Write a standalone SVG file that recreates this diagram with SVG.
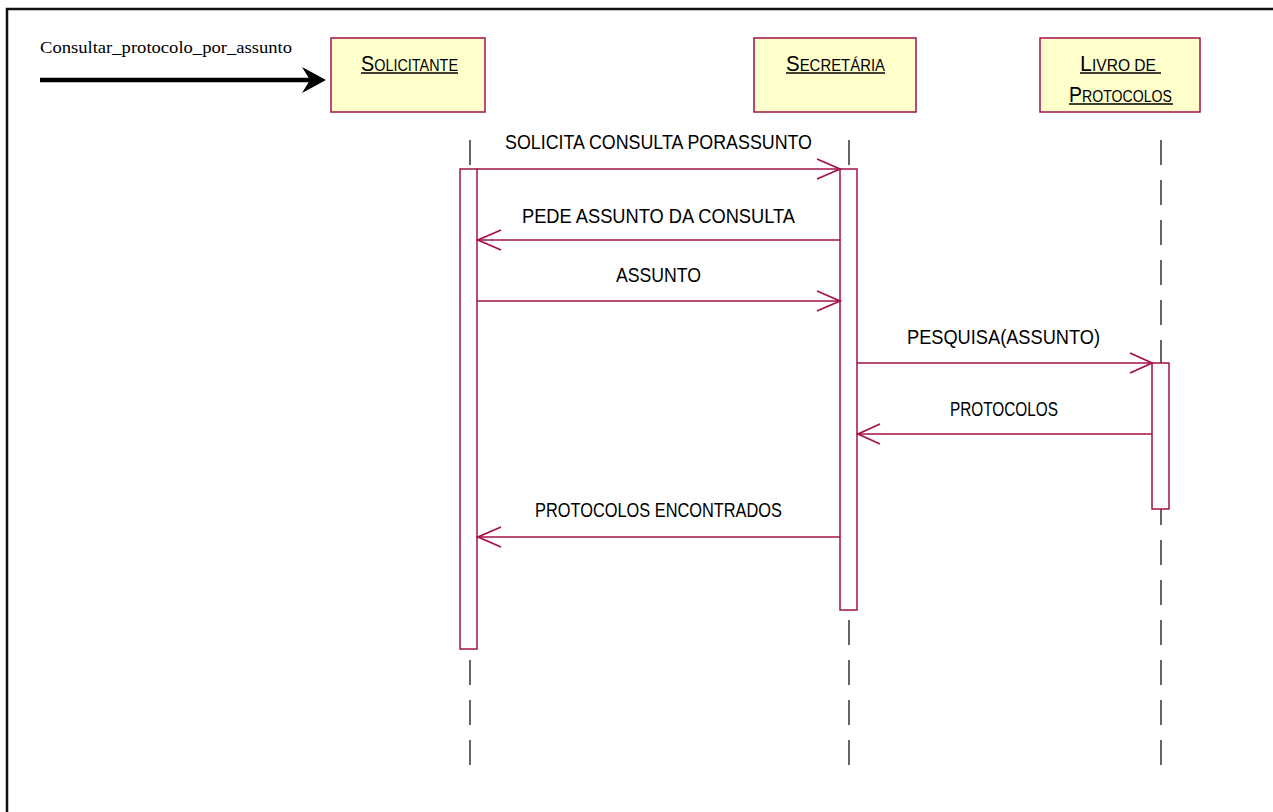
<svg xmlns="http://www.w3.org/2000/svg" width="1273" height="812" viewBox="0 0 1273 812">
<defs>
<style>
.frame{fill:none;stroke:#111;stroke-width:2.5}
.actor{fill:#ffffcc;stroke:#a3124a;stroke-width:1.5}
.act{fill:#fff;stroke:#a3124a;stroke-width:1.5}
.life{stroke:#333;stroke-width:1.5;stroke-dasharray:25 15;fill:none}
.msg{stroke:#a3124a;stroke-width:1.5;fill:none}
.head{stroke:#a3124a;stroke-width:1.8;fill:none}
.lbl{font-family:"Liberation Sans",Arial,sans-serif;font-size:21px;fill:#000}
.ttl{font-family:"Liberation Sans",Arial,sans-serif;font-size:16px;fill:#000}
.big{font-size:22px}
.ul{stroke:#000;stroke-width:1.5}
</style>
</defs>
<rect class="frame" x="7" y="9" width="1300" height="900"/>

<g id="entry">
<text x="40" y="53" font-family="'Liberation Serif','Times New Roman',serif" font-size="17.5" textLength="252" lengthAdjust="spacingAndGlyphs">Consultar_protocolo_por_assunto</text>
<line x1="40" y1="80" x2="312" y2="80" stroke="#000" stroke-width="4.5"/>
<polygon points="302,67 326,80 302,93 310,80" fill="#000"/>
</g>

<g id="solicitante">
<rect class="actor" x="331" y="38" width="154" height="74"/>
<text class="ttl" x="361" y="71" textLength="97" lengthAdjust="spacingAndGlyphs"><tspan class="big">S</tspan>OLICITANTE</text>
<line class="ul" x1="361" y1="73" x2="458" y2="73"/>
<line class="life" x1="470" y1="140" x2="470" y2="765"/>
<rect class="act" x="460" y="169" width="17" height="480"/>
</g>

<g id="secretaria">
<rect class="actor" x="754" y="38" width="162" height="74"/>
<text class="ttl" x="786" y="71" textLength="99" lengthAdjust="spacingAndGlyphs"><tspan class="big">S</tspan>ECRETÁRIA</text>
<line class="ul" x1="786" y1="73" x2="885" y2="73"/>
<line class="life" x1="849" y1="140" x2="849" y2="765"/>
<rect class="act" x="840" y="169" width="17" height="441"/>
</g>

<g id="livro">
<rect class="actor" x="1040" y="38" width="160" height="74"/>
<text class="ttl" x="1080" y="71" textLength="76" lengthAdjust="spacingAndGlyphs"><tspan class="big">L</tspan>IVRO DE</text>
<line class="ul" x1="1080" y1="73" x2="1161" y2="73"/>
<text class="ttl" x="1069" y="102" textLength="103" lengthAdjust="spacingAndGlyphs"><tspan class="big">P</tspan>ROTOCOLOS</text>
<line class="ul" x1="1069" y1="104" x2="1173" y2="104"/>
<line class="life" x1="1161" y1="140" x2="1161" y2="765"/>
<rect class="act" x="1152" y="363" width="17" height="146"/>
</g>

<g id="connectors">
<line class="msg" x1="477" y1="169" x2="840" y2="169"/>
<polyline class="head" points="817,159 840,169 817,179"/>
<text class="lbl" x="505" y="149" textLength="307" lengthAdjust="spacingAndGlyphs">SOLICITA CONSULTA PORASSUNTO</text>

<line class="msg" x1="840" y1="240" x2="477" y2="240"/>
<polyline class="head" points="501,230 478,240 501,250"/>
<text class="lbl" x="522" y="223" textLength="273" lengthAdjust="spacingAndGlyphs">PEDE ASSUNTO DA CONSULTA</text>

<line class="msg" x1="477" y1="301" x2="840" y2="301"/>
<polyline class="head" points="817,291 840,301 817,311"/>
<text class="lbl" x="616" y="282" textLength="85" lengthAdjust="spacingAndGlyphs">ASSUNTO</text>

<line class="msg" x1="857" y1="363" x2="1152" y2="363"/>
<polyline class="head" points="1130,353 1152,363 1130,373"/>
<text class="lbl" x="907" y="344" textLength="193" lengthAdjust="spacingAndGlyphs">PESQUISA(ASSUNTO)</text>

<line class="msg" x1="1152" y1="434" x2="857" y2="434"/>
<polyline class="head" points="880,424 858,434 880,444"/>
<text class="lbl" x="950" y="416" textLength="108" lengthAdjust="spacingAndGlyphs">PROTOCOLOS</text>

<line class="msg" x1="840" y1="537" x2="477" y2="537"/>
<polyline class="head" points="501,527 478,537 501,547"/>
<text class="lbl" x="535" y="517" textLength="247" lengthAdjust="spacingAndGlyphs">PROTOCOLOS ENCONTRADOS</text>
</g>
</svg>
